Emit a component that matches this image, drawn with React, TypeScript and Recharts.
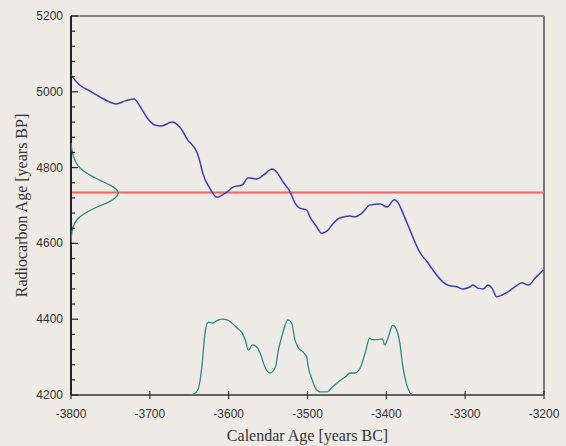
import React from 'react';
import { ComposedChart, XAxis, YAxis, Scatter, ReferenceLine } from 'recharts';

// Calibration curve (calendar year BC as negative, radiocarbon age BP)
const calYears = [
  -3800, -3789, -3776, -3763, -3751, -3743, -3731, -3720, -3712, -3704, -3693, -3685,
  -3672, -3662, -3652, -3640, -3636, -3633, -3624, -3615, -3602, -3594, -3583, -3575,
  -3564, -3556, -3545, -3539, -3531, -3522, -3516, -3510, -3501, -3497, -3489, -3482,
  -3475, -3468, -3459, -3446, -3440, -3431, -3421, -3408, -3399, -3390, -3385, -3379,
  -3370, -3361, -3357, -3348, -3341, -3328, -3322, -3310, -3303, -3294, -3290, -3284,
  -3277, -3271, -3266, -3260, -3253, -3246, -3237, -3228, -3220, -3211, -3201,
];
const calC14 = [
  5044, 5018, 5002, 4986, 4973, 4968, 4976, 4981, 4960, 4933, 4912, 4910,
  4920, 4907, 4873, 4839, 4812, 4786, 4746, 4722, 4736, 4749, 4754, 4773,
  4770, 4780, 4796, 4788, 4762, 4736, 4707, 4693, 4688, 4670, 4646, 4627,
  4633, 4651, 4667, 4672, 4670, 4680, 4701, 4704, 4696, 4715, 4707, 4680,
  4635, 4591, 4575, 4551, 4530, 4498, 4490, 4485, 4480, 4485, 4490, 4482,
  4480, 4490, 4482, 4459, 4464, 4472, 4485, 4496, 4490, 4509, 4530,
];

// Calibrated probability distribution (relative)
const densYears = [
  -3650, -3645, -3639, -3634, -3630, -3626, -3620, -3615, -3608, -3602, -3596, -3589,
  -3583, -3579, -3575, -3570, -3564, -3560, -3554, -3548, -3541, -3537, -3531, -3525,
  -3520, -3516, -3512, -3506, -3501, -3499, -3494, -3490, -3484, -3475, -3468, -3461,
  -3452, -3446, -3440, -3433, -3427, -3421, -3418, -3412, -3405, -3402, -3398, -3392,
  -3386, -3383, -3379, -3374, -3370, -3367,
];
const densProb = [
  0, 0.01, 0.07, 0.37, 0.82, 0.96, 0.95, 0.98, 1.0, 0.99, 0.95, 0.88,
  0.82, 0.73, 0.59, 0.66, 0.63, 0.55, 0.37, 0.29, 0.36, 0.59, 0.83, 0.99,
  0.95, 0.73, 0.63, 0.57, 0.5, 0.37, 0.2, 0.09, 0.04, 0.04, 0.11, 0.17,
  0.24, 0.29, 0.29, 0.36, 0.55, 0.75, 0.73, 0.73, 0.74, 0.66, 0.75, 0.92,
  0.83, 0.69, 0.37, 0.13, 0.03, 0,
];

// Measured radiocarbon age distribution (relative), ascending age
const gaussC14 = [
  4596, 4630, 4654, 4670, 4683, 4696, 4707, 4720, 4733, 4741, 4754, 4767, 4780, 4799, 4820, 4846, 4865,
];
const gaussProb = [
  0, 0.02, 0.08, 0.19, 0.34, 0.55, 0.76, 0.93, 1.0, 0.97, 0.82, 0.61, 0.4, 0.19, 0.08, 0.02, 0,
];

const measuredAge = 4734;

const xTicks = [-3800, -3700, -3600, -3500, -3400, -3300, -3200];
const yTicks = [
  4200, 4240, 4280, 4320, 4360, 4400, 4440, 4480, 4520, 4560, 4600, 4640, 4680,
  4720, 4760, 4800, 4840, 4880, 4920, 4960, 5000, 5040, 5080, 5120, 5160, 5200,
];
const yLabelStep = 200;

const curveData = calYears.map((x, i) => ({ x, y: calC14[i] }));
const densData = densYears.map((x, i) => ({ x, y: densProb[i] }));
const gaussData = gaussC14.map((y, i) => ({ x: gaussProb[i], y }));

const BG = '#eeebe6';
const BLUE = '#3a3ec2';
const TEAL = '#2a8888';
const RED = '#ff5f5f';

const Nothing = () => <g />;

const XTick = (props: any) => {
  const { x, y, payload } = props;
  return (
    <g>
      <line x1={x} x2={x} y1={y - 4} y2={y + 4} stroke="#333" strokeWidth={1.2} />
      <text
        x={x}
        y={y + 23}
        textAnchor="middle"
        fontFamily="'Liberation Sans', Arial, sans-serif"
        fontSize={12}
        fill="#333"
      >
        {payload.value}
      </text>
    </g>
  );
};

const YTick = (props: any) => {
  const { x, y, payload } = props;
  const major = (payload.value - 4200) % yLabelStep === 0;
  return (
    <g>
      <line x1={x} x2={x + (major ? 7 : 4)} y1={y} y2={y} stroke="#222" strokeWidth={1.2} />
      {major && (
        <text
          x={x - 8}
          y={y + 4}
          textAnchor="end"
          fontFamily="'Liberation Sans', Arial, sans-serif"
          fontSize={12}
          fill="#333"
        >
          {payload.value}
        </text>
      )}
    </g>
  );
};

export default function App() {
  return (
    <div style={{ position: 'fixed', left: 0, top: 0, width: 566, height: 446, background: BG }}>
      <ComposedChart width={566} height={446} margin={{ top: 16, right: 22, bottom: 0, left: 0 }}>
        <XAxis
          xAxisId="cal"
          dataKey="x"
          type="number"
          domain={[-3800, -3200]}
          ticks={xTicks}
          interval={0}
          height={51}
          tickLine={false}
          tickSize={0}
          tickMargin={0}
          tick={<XTick />}
          axisLine={{ stroke: '#333', strokeWidth: 1.5 }}
          allowDataOverflow
          label={{
            value: 'Calendar Age [years BC]',
            position: 'insideBottom',
            offset: 5,
            style: { fontFamily: "'Liberation Serif', 'Times New Roman', serif", fontSize: 16, fill: '#333' },
          }}
        />
        <XAxis xAxisId="g" dataKey="x" type="number" domain={[0, 10]} hide allowDataOverflow />
        <YAxis
          yAxisId="c14"
          dataKey="y"
          type="number"
          domain={[4200, 5200]}
          ticks={yTicks}
          interval={0}
          width={71}
          tickLine={false}
          tickSize={0}
          tickMargin={0}
          tick={<YTick />}
          axisLine={{ stroke: '#222', strokeWidth: 2 }}
          allowDataOverflow
          label={{
            value: 'Radiocarbon Age [years BP]',
            angle: -90,
            position: 'insideLeft',
            offset: 21,
            style: {
              textAnchor: 'middle',
              fontFamily: "'Liberation Serif', 'Times New Roman', serif",
              fontSize: 16,
              fill: '#333',
            },
          }}
        />
        <YAxis yAxisId="d" dataKey="y" type="number" domain={[0, 5]} hide allowDataOverflow />

        <ReferenceLine yAxisId="c14" xAxisId="cal" y={5200} stroke="#222" strokeWidth={1.2} />
        <ReferenceLine yAxisId="c14" xAxisId="cal" x={-3200} stroke="#777" strokeWidth={2} />
        <ReferenceLine yAxisId="c14" xAxisId="cal" y={measuredAge} stroke={RED} strokeWidth={2} />

        <Scatter
          xAxisId="cal"
          yAxisId="c14"
          data={curveData}
          fill={BLUE}
          line={{ stroke: BLUE, strokeWidth: 1.5 }}
          lineJointType="monotoneX"
          shape={Nothing}
          isAnimationActive={false}
        />
        <Scatter
          xAxisId="cal"
          yAxisId="d"
          data={densData}
          fill={TEAL}
          line={{ stroke: TEAL, strokeWidth: 1.3 }}
          lineJointType="monotoneX"
          shape={Nothing}
          isAnimationActive={false}
        />
        <Scatter
          xAxisId="g"
          yAxisId="c14"
          data={gaussData}
          fill={TEAL}
          line={{ stroke: TEAL, strokeWidth: 1.3 }}
          lineJointType="monotoneY"
          shape={Nothing}
          isAnimationActive={false}
        />
      </ComposedChart>
    </div>
  );
}
